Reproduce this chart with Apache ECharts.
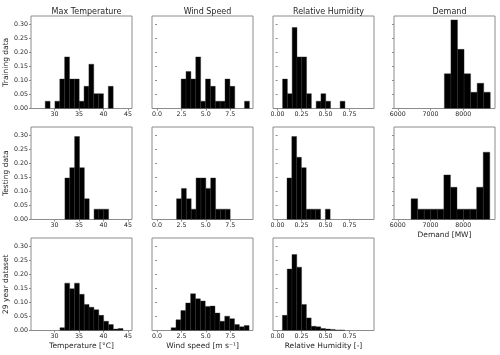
<!DOCTYPE html>
<html>
<head>
<meta charset="utf-8">
<script src="https://cdn.jsdelivr.net/npm/echarts@6/dist/echarts.min.js"></script>
<style>
html, body { margin: 0; padding: 0; background: #fff; }
#chart { width: 500px; height: 355px; }
</style>
</head>
<body>
<div id="chart"></div>
<script>
// column titles, row labels, x labels
var colTitles = ['Max Temperature', 'Wind Speed', 'Relative Humidity', 'Demand'];
var rowNames = ['Training data', 'Testing data', '29 year dataset'];
var xNames = ['Temperature [°C]', 'Wind speed [m s\u207B\u00B9]', 'Relative Humidity [-]', 'Demand [MW]'];

// tick values + labels
var yTicks = [0, 0.05, 0.10, 0.15, 0.20, 0.25, 0.30];
var tempTicks = [30, 35, 40, 45];
var windTicks = [0, 2.5, 5, 7.5];
var rhTicks = [0, 0.25, 0.5, 0.75];
var demandTicks = [6000, 7000, 8000];

// histogram bins: first edge, bin width, bar heights (fraction)
var binWidth = [0.99, 0.5, 0.05, 200];

var trainTempStart = 28.1;
var trainTemp = [0.026, 0, 0.026, 0.105, 0.184, 0.105, 0.105, 0.026, 0.079, 0.158, 0.053, 0.053, 0, 0.079];
var testTempStart = 32.12;
var testTemp = [0.148, 0.185, 0.296, 0.185, 0.074, 0, 0.037, 0.037, 0.037];
var yearTempStart = 31.1;
var yearTemp = [0.010, 0.169, 0.149, 0.169, 0.129, 0.093, 0.083, 0.074, 0.054, 0.033, 0.021, 0.005, 0.007];

var trainWindStart = 2.47;
var trainWind = [0.105, 0.132, 0.105, 0.184, 0.026, 0.105, 0.079, 0.026, 0.026, 0.105, 0.079, 0, 0, 0.026];
var testWindStart = 2.0;
var testWind = [0.074, 0.111, 0.074, 0.037, 0.148, 0.148, 0.111, 0.148, 0.037, 0.037, 0.037];
var yearWindStart = 1.44;
var yearWind = [0.010, 0.038, 0.071, 0.098, 0.131, 0.113, 0.105, 0.086, 0.087, 0.062, 0.033, 0.051, 0.042, 0.021, 0.013, 0.018];

var trainRHStart = 0.052;
var trainRH = [0.105, 0.053, 0.289, 0.184, 0.184, 0.053, 0, 0.026, 0.053, 0.026, 0, 0, 0.026];
var testRHStart = 0.098;
var testRH = [0.148, 0.296, 0.222, 0.185, 0.037, 0.037, 0.037, 0, 0.037];
var yearRHStart = 0.05;
var yearRH = [0.054, 0.219, 0.271, 0.226, 0.093, 0.045, 0.015, 0.013, 0.007, 0.005, 0.004, 0.002, 0.002];

var trainDemandStart = 7421;
var trainDemand = [0.124, 0.316, 0.211, 0.124, 0.058, 0.090, 0.058];
var testDemandStart = 6406;
var testDemand = [0.074, 0.037, 0.037, 0.037, 0.037, 0.159, 0.115, 0.037, 0.037, 0.037, 0.115, 0.240];

// layout
var colLeft = [31, 152, 273, 394];
var rowTop = [16, 127, 238];
var panelW = 101, panelH = 92.5;

var xMin = [25.2, -0.52, -0.048, 5885];
var xMax = [45.8, 9.84, 1.005, 8965];
var xTicks = [tempTicks, windTicks, rhTicks, demandTicks];
var xFmt = [
  function (v) { return String(v); },
  function (v) { return v.toFixed(1); },
  function (v) { return v.toFixed(2); },
  function (v) { return String(v); }
];

var panels = [
  { row: 0, col: 0, start: trainTempStart, h: trainTemp },
  { row: 0, col: 1, start: trainWindStart, h: trainWind },
  { row: 0, col: 2, start: trainRHStart, h: trainRH },
  { row: 0, col: 3, start: trainDemandStart, h: trainDemand },
  { row: 1, col: 0, start: testTempStart, h: testTemp },
  { row: 1, col: 1, start: testWindStart, h: testWind },
  { row: 1, col: 2, start: testRHStart, h: testRH },
  { row: 1, col: 3, start: testDemandStart, h: testDemand },
  { row: 2, col: 0, start: yearTempStart, h: yearTemp },
  { row: 2, col: 1, start: yearWindStart, h: yearWind },
  { row: 2, col: 2, start: yearRHStart, h: yearRH }
];

var font = 'DejaVu Sans';
var txt = '#262626';
var spine = '#8c8c8c';

function renderBar(params, api) {
  var p0 = api.coord([api.value(0), api.value(2)]);
  var p1 = api.coord([api.value(1), 0]);
  return {
    type: 'rect',
    shape: { x: p0[0], y: p0[1], width: p1[0] - p0[0], height: p1[1] - p0[1] },
    style: { fill: '#000', stroke: '#2a2a2a', lineWidth: 0.4 }
  };
}

var grids = [], xAxes = [], yAxes = [], series = [], titles = [];

colTitles.forEach(function (t, c) {
  titles.push({
    text: t, left: colLeft[c] + panelW / 2, top: 3, textAlign: 'center',
    textStyle: { fontFamily: font, fontSize: 8, fontWeight: 'normal', color: txt }
  });
});

panels.forEach(function (p, i) {
  grids.push({
    left: colLeft[p.col], top: rowTop[p.row], width: panelW, height: panelH,
    show: true, borderColor: spine, borderWidth: 1, backgroundColor: 'transparent'
  });
  var showXName = p.row === 2 || (p.col === 3 && p.row === 1);
  xAxes.push({
    gridIndex: i, type: 'value', min: xMin[p.col], max: xMax[p.col],
    name: showXName ? xNames[p.col] : '', nameLocation: 'middle', nameGap: 11.5,
    nameTextStyle: { fontFamily: font, fontSize: 7.5, color: txt },
    axisLine: { show: false },
    axisTick: { show: true, length: 2, lineStyle: { color: spine }, customValues: xTicks[p.col] },
    axisLabel: {
      fontFamily: font, fontSize: 6.3, color: txt, margin: 3,
      customValues: xTicks[p.col], formatter: xFmt[p.col]
    },
    splitLine: { show: false }
  });
  yAxes.push({
    gridIndex: i, type: 'value', min: 0, max: 0.33,
    name: p.col === 0 ? rowNames[p.row] : '', nameLocation: 'middle', nameGap: 20,
    nameTextStyle: { fontFamily: font, fontSize: 7.5, color: txt },
    axisLine: { show: false },
    axisTick: { show: true, length: 2, lineStyle: { color: spine }, customValues: yTicks },
    axisLabel: {
      show: p.col === 0, fontFamily: font, fontSize: 6.3, color: txt, margin: 3,
      customValues: yTicks, formatter: function (v) { return v.toFixed(2); }
    },
    splitLine: { show: false }
  });
  var w = binWidth[p.col];
  var data = [];
  p.h.forEach(function (v, k) {
    if (v > 0) data.push([p.start + k * w, p.start + (k + 1) * w, v]);
  });
  series.push({
    type: 'custom', xAxisIndex: i, yAxisIndex: i, clip: true,
    renderItem: renderBar, encode: { x: [0, 1], y: 2 }, data: data, silent: true
  });
});

var chart = echarts.init(document.getElementById('chart'), null, { renderer: 'canvas' });
chart.setOption({
  animation: false,
  backgroundColor: '#fff',
  title: titles,
  grid: grids,
  xAxis: xAxes,
  yAxis: yAxes,
  series: series
});
</script>
</body>
</html>
